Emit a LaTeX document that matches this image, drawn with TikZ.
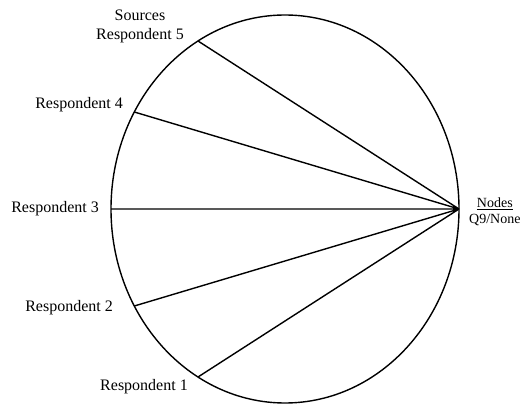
\documentclass[tikz,border=0pt]{standalone}
\usepackage{fontspec}
\setmainfont{Liberation Serif}
\usepackage{tikz}
\usetikzlibrary{positioning}

\tikzset{
    resp/.style={font=\fontsize{16}{19}\selectfont, inner sep=2pt},
    spoke/.style={line width=1.4pt},
}

\begin{document}
\begin{tikzpicture}[x=1pt, y=-1pt]
        \useasboundingbox (0,0) rectangle (520,406);

        \coordinate (c) at (285,209);
        \draw[spoke] (c) ellipse [x radius=174, y radius=194];

        \path (c) ++(0:174 and 194) coordinate (n)
              (c) ++(120:174 and 194) coordinate (r5)
              (c) ++(150:174 and 194) coordinate (r4)
              (c) ++(180:174 and 194) coordinate (r3)
              (c) ++(210:174 and 194) coordinate (r2)
              (c) ++(240:174 and 194) coordinate (r1);

        \node[resp, align=center] (l5) at (140,26) {Sources\\Respondent 5};
        \node[resp, anchor=east] (l4) at (125,105) {Respondent 4};
        \node[resp, anchor=east] (l3) at (101,209) {Respondent 3};
        \node[resp, anchor=east] (l2) at (115,308) {Respondent 2};
        \node[resp] (l1) at (144,387) {Respondent 1};
        \node[font=\fontsize{14}{16}\selectfont, align=center, anchor=west, inner sep=1pt] (nodes) at (468,212) {\underline{Nodes}\\Q9/None};

        \draw[spoke] (r5) -- (n)
            (r4) -- (n)
            (r3) -- (n)
            (r2) -- (n)
            (r1) -- (n);
    \end{tikzpicture}
\end{document}
